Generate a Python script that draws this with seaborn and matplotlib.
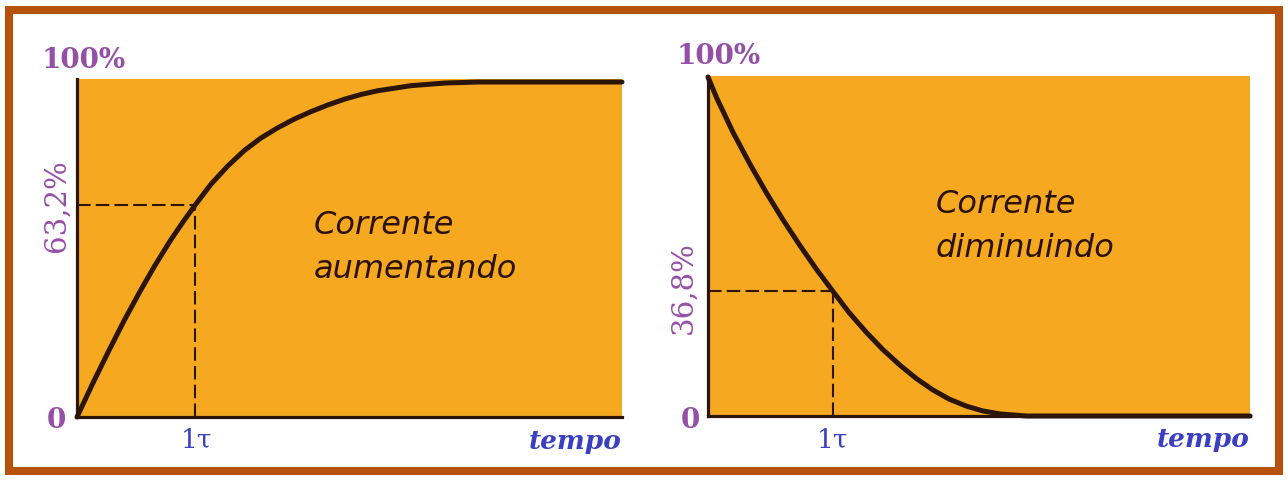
import numpy as np
import pandas as pd
import matplotlib
matplotlib.use("Agg")
import matplotlib.pyplot as plt
from matplotlib.patches import Rectangle
import seaborn as sns

# ---- data (time in units of tau, current in % of maximum) ----
rise_t = [0.0, 0.14, 0.27, 0.4, 0.534, 0.66, 0.79, 0.9, 1.0, 1.136, 1.28,
          1.42, 1.56, 1.70, 1.84, 1.98, 2.13, 2.27, 2.41, 2.55, 2.83, 3.12,
          3.4, 4.62]
rise_i = [0.0, 10.5, 19.8, 28.8, 37.5, 45.2, 52.6, 58.3, 63.2, 69.5, 75.0,
          79.6, 83.3, 86.3, 88.9, 91.1, 93.2, 94.9, 96.3, 97.4, 98.9, 99.7,
          100.0, 100.0]

fall_t = [0.0, 0.07, 0.2, 0.336, 0.47, 0.6, 0.736, 0.87, 1.0, 1.13, 1.27,
          1.4, 1.54, 1.67, 1.8, 1.93, 2.07, 2.2, 2.34, 2.55, 4.34]
fall_i = [100.0, 93.8, 83.7, 74.3, 65.7, 57.9, 50.3, 43.2, 36.8, 30.5, 24.6,
          19.6, 14.9, 11.0, 7.7, 5.0, 2.9, 1.5, 0.6, 0.0, 0.0]

rise_label = "Corrente\naumentando"
fall_label = "Corrente\ndiminuindo"
rise_mark = 63.2
fall_mark = 36.8
tau_mark = 1.0

ORANGE = "#F6A920"
PURPLE = "#9450A6"
BLUE = "#3B40C2"
CURVE = "#2B150A"
BORDER = "#B6520C"

sns.set_style("white")
plt.rcParams["font.family"] = ["DejaVu Sans"]

W, H = 1288, 481
fig = plt.figure(figsize=(W / 100, H / 100), dpi=100)
fig.patch.set_facecolor("#FFFFFF")


def fig_rect(x0, x1, ytop, ybot):
    return [x0 / W, 1 - ybot / H, (x1 - x0) / W, (ybot - ytop) / H]


ax1 = fig.add_axes(fig_rect(77, 622, 80, 418))
ax2 = fig.add_axes(fig_rect(708, 1250, 77, 417))

rise_df = pd.DataFrame({"t": rise_t, "i": rise_i})
fall_df = pd.DataFrame({"t": fall_t, "i": fall_i})

serif = ["DejaVu Serif"]
DASH = (6.5, 2.5)


def style(ax, xmax, ytop):
    ax.set_facecolor(ORANGE)
    ax.set_xlim(0, xmax)
    ax.set_ylim(0, ytop)
    for s in ["top", "right"]:
        ax.spines[s].set_visible(False)
    for s in ["left", "bottom"]:
        ax.spines[s].set_color(CURVE)
        ax.spines[s].set_linewidth(2.3)
        ax.spines[s].set_zorder(5)
    ax.set_xticks([])
    ax.set_yticks([])
    ax.set_xlabel("")
    ax.set_ylabel("")


def ftext(x, y, s, **kw):
    fig.text(x / W, 1 - y / H, s, **kw)


# left panel
sns.lineplot(data=rise_df, x="t", y="i", ax=ax1, color=CURVE, lw=3.6,
             estimator=None, sort=False, zorder=6, clip_on=False)
style(ax1, 4.62, 100.9)
ax1.plot([0, tau_mark], [rise_mark, rise_mark], color=CURVE, lw=1.5,
         dashes=DASH, zorder=3)
ax1.plot([tau_mark, tau_mark], [0, rise_mark], color=CURVE, lw=1.5,
         dashes=DASH, zorder=3)

# right panel
sns.lineplot(data=fall_df, x="t", y="i", ax=ax2, color=CURVE, lw=3.6,
             estimator=None, sort=False, zorder=6, clip_on=False)
style(ax2, 4.34, 100.3)
ax2.plot([0, tau_mark], [fall_mark, fall_mark], color=CURVE, lw=1.5,
         dashes=DASH, zorder=3)
ax2.plot([tau_mark, tau_mark], [0, fall_mark], color=CURVE, lw=1.5,
         dashes=DASH, zorder=3)

# in-panel captions
cap = dict(fontsize=23, style="italic", color="#2A1208", ha="left",
           va="baseline")
l1, l2 = rise_label.split("\n")
ftext(314, 234, l1, **cap)
ftext(314, 278, l2, **cap)
l1, l2 = fall_label.split("\n")
ftext(936, 213, l1, **cap)
ftext(936, 257, l2, **cap)

# labels (in figure pixel positions)
lab = dict(fontsize=20, fontweight="bold", family=serif)
ftext(84, 61, "100%", color=PURPLE, ha="center", va="center", **lab)
ftext(56, 421, "0", color=PURPLE, ha="center", va="center", **lab)
ftext(57, 206, "63,2%", color=PURPLE, ha="center", va="center", rotation=90,
      fontsize=21, family=serif)
ftext(196, 440, "1τ", color=BLUE, ha="center", va="center", fontsize=19,
      family=serif)
ftext(622, 442, "tempo", color=BLUE, ha="right", va="center", fontsize=19,
      fontweight="bold", style="italic", family=serif)

ftext(719, 56, "100%", color=PURPLE, ha="center", va="center", **lab)
ftext(690, 421, "0", color=PURPLE, ha="center", va="center", **lab)
ftext(683, 288, "36,8%", color=PURPLE, ha="center", va="center", rotation=90,
      fontsize=21, family=serif)
ftext(832, 440, "1τ", color=BLUE, ha="center", va="center", fontsize=19,
      family=serif)
ftext(1250, 440, "tempo", color=BLUE, ha="right", va="center", fontsize=19,
      fontweight="bold", style="italic", family=serif)

# outer border
fig.patches.append(Rectangle((9 / W, 1 - 472 / H), (1279 - 9) / W, (472 - 11) / H,
                             transform=fig.transFigure, fill=False,
                             edgecolor=BORDER, lw=5.8, zorder=10))

fig.savefig("out.png", dpi=100)
